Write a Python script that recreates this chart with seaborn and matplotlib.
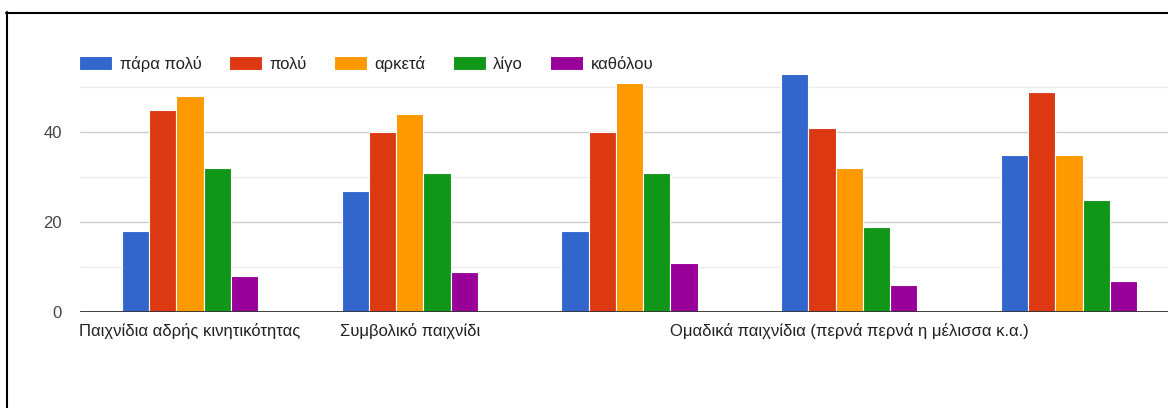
import matplotlib
matplotlib.use("Agg")
import matplotlib.pyplot as plt
from matplotlib.lines import Line2D
from matplotlib.ticker import FixedLocator
import seaborn as sns
import pandas as pd

# Survey answers: how often each kind of play is used
categories = [
    "Παιχνίδια αδρής κινητικότητας",
    "Συμβολικό παιχνίδι",
    "Κατηγορία 3",
    "Ομαδικά παιχνίδια (περνά περνά η μέλισσα κ.α.)",
    "Κατηγορία 5",
]
# Only every other category label fits under the axis
tick_labels = [
    "Παιχνίδια αδρής κινητικότητας",
    "Συμβολικό παιχνίδι",
    "",
    "Ομαδικά παιχνίδια (περνά περνά η μέλισσα κ.α.)",
    "",
]
answers = ["πάρα πολύ", "πολύ", "αρκετά", "λίγο", "καθόλου"]
para_poly = [18, 27, 18, 53, 35]
poly = [45, 40, 40, 41, 49]
arketa = [48, 44, 51, 32, 35]
ligo = [32, 31, 31, 19, 25]
katholou = [8, 9, 11, 6, 7]
colors = ["#3366CC", "#DC3912", "#FF9900", "#109618", "#990099"]

series = [para_poly, poly, arketa, ligo, katholou]
rows = []
for ans, vals in zip(answers, series):
    for cat, v in zip(categories, vals):
        rows.append({"category": cat, "answer": ans, "count": v})
df = pd.DataFrame(rows)

sns.set_theme(style="white")
plt.rcParams["font.family"] = ["Liberation Sans", "DejaVu Sans"]

W, H = 1168, 408
FS = 12
fig = plt.figure(figsize=(W / 100, H / 100), dpi=100)
fig.patch.set_facecolor("white")

def px(x0, y0, x1, y1):
    return [x0 / W, 1 - y1 / H, (x1 - x0) / W, (y1 - y0) / H]

ymax = 54
ax = fig.add_axes(px(80, 312 - ymax * 4.5, 1179, 312))

sns.barplot(
    data=df, x="category", y="count", hue="answer",
    order=categories, hue_order=answers, palette=colors,
    width=0.62, edgecolor="white", linewidth=0.8, saturation=1,
    ax=ax, legend=True, zorder=3,
)

ax.set_xlim(-0.5, 4.5)
ax.set_ylim(0, ymax)
ax.set_xlabel("")
ax.set_ylabel("")
ax.set_xticks(range(len(categories)))
ax.set_xticklabels(tick_labels, fontsize=FS, color="#222222")
ax.yaxis.set_major_locator(FixedLocator([0, 20, 40]))
ax.yaxis.set_minor_locator(FixedLocator([10, 30, 50]))
ax.set_yticklabels(["0", "20", "40"], fontsize=FS, color="#444444")
ax.tick_params(axis="y", which="both", length=0, pad=13)
ax.tick_params(axis="x", length=0, pad=8)
ax.grid(axis="y", which="major", color="#cccccc", linewidth=1.0, zorder=0)
ax.grid(axis="y", which="minor", color="#ebebeb", linewidth=1.0, zorder=0)
ax.grid(axis="x", visible=False)
ax.set_axisbelow(True)
for s in ax.spines.values():
    s.set_visible(False)
ax.axhline(0, color="#333333", linewidth=1.3, zorder=4)

handles, labels = ax.get_legend_handles_labels()
ax.legend(
    handles, labels, loc="center left",
    bbox_to_anchor=(79 / W, 1 - 64 / H), bbox_transform=fig.transFigure,
    ncol=5, frameon=False, borderpad=0, borderaxespad=0,
    handlelength=1.98, handleheight=0.9, handletextpad=0.45,
    columnspacing=1.64, fontsize=FS, labelcolor="#222222",
)

# Frame lines along the top and left edges
fig.add_artist(Line2D([6 / W, 1], [1 - 12.5 / H] * 2, color="black",
                      linewidth=1.5, transform=fig.transFigure))
fig.add_artist(Line2D([6.5 / W] * 2, [0, 1 - 12 / H], color="black",
                      linewidth=1.5, transform=fig.transFigure))

fig.savefig("out.png", dpi=100)
